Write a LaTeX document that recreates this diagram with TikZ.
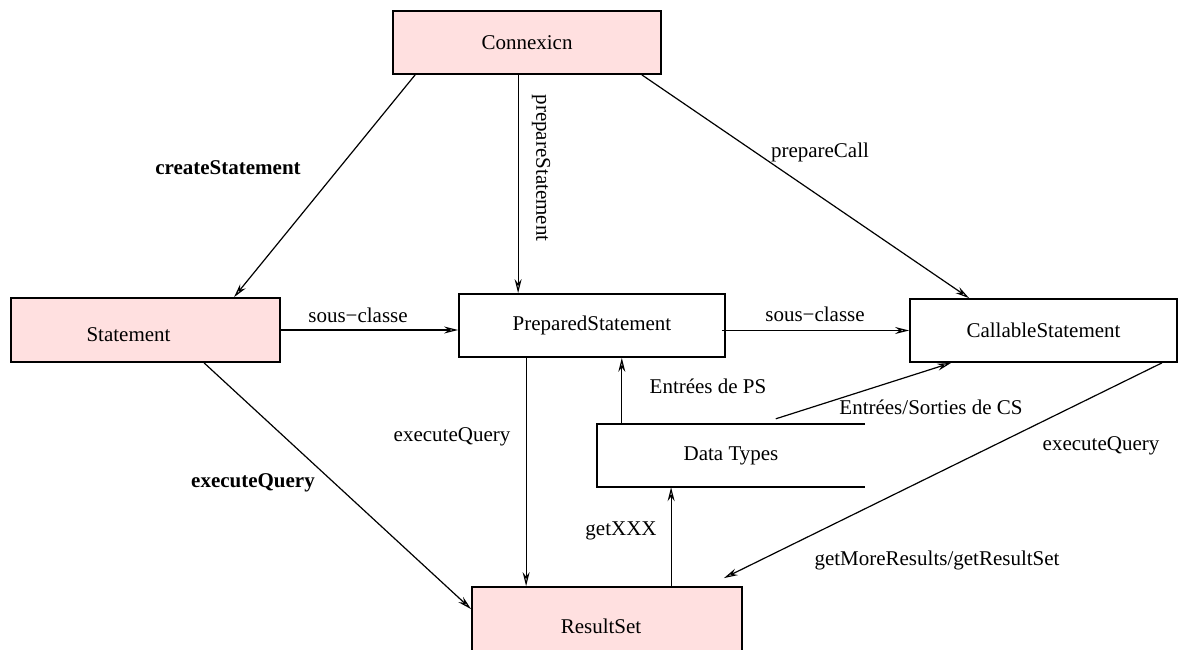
\documentclass[tikz,border=0pt]{standalone}
\usepackage{fontspec}
\setmainfont{Liberation Serif}
\usetikzlibrary{arrows.meta,calc}
\definecolor{boxpink}{RGB}{255,224,224}
\tikzset{
  classbox/.style={draw=black, line width=1.8pt, minimum width=#1, minimum height=63pt,
    inner sep=0pt, font=\fontsize{21}{25}\selectfont},
  pinkbox/.style={classbox=#1, fill=boxpink},
  link/.style={line width=1.2pt, -{Stealth[open, length=14pt, width=7pt]}},
  lbl/.style={font=\fontsize{21}{25}\selectfont, inner sep=0pt},
  blbl/.style={font=\fontsize{21}{25}\selectfont\bfseries, inner sep=0pt}
}
\begin{document}
\begin{tikzpicture}[x=1pt, y=-1pt]
\useasboundingbox (0,0) rectangle (1179,649);

% classes
\node[pinkbox=268pt] (cx) at (527,42.5) {Connexicn};
\node[pinkbox=269pt, minimum height=64pt,
      label={[lbl, xshift=-17pt, yshift=-5pt]center:Statement}] (st) at (145.5,330) {};
\node[classbox=266pt] (ps) at (592,325.5) {PreparedStatement};
\node[classbox=267pt] (cs) at (1043.5,330.5) {CallableStatement};
\node[pinkbox=270pt, minimum height=66pt,
      label={[lbl, xshift=-6pt, yshift=-6pt]center:ResultSet}] (rs) at (607,620) {};
\node[minimum width=268pt, minimum height=63pt, inner sep=0pt,
      font=\fontsize{21}{25}\selectfont] (dt) at (731,455.5) {Data Types};
\draw[line width=1.8pt] (dt.north east) -- (dt.north west) -- (dt.south west) -- (dt.south east);

% start points of the vertical connectors
\coordinate (psq) at ($(ps.south west)+(68,0)$);
\coordinate (dtin) at ($(dt.north west)+(25,0)$);
\coordinate (rsget) at ($(rs.north west)+(200,0)$);

% connectors
\draw[link] ($(cx.south west)+(23,0)$) -- ($(st.north west)+(224,0)$);
\draw[link] ($(cx.south west)+(126,0)$) -- ($(ps.north west)+(60,0)$);
\draw[link] ($(cx.south east)+(-20,0)$) -- ($(cs.north west)+(60,0)$);
\draw[link] (st.east) -- (st.east -| ps.west);
\draw[link] ($(ps.east |- cs.west)+(-4,0)$) -- (cs.west);
\draw[link] ($(st.south west)+(194,0)$) -- ($(rs.north west)+(0,23)$);
\draw[link] (psq) -- (psq |- rs.north);
\draw[link] (dtin) -- (dtin |- ps.south);
\draw[link] ($(dt.north west)+(179,-5)$) -- ($(cs.south west)+(42,0)$);
\draw[link] (rsget) -- (rsget |- dt.south);
\draw[link] ($(cs.south east)+(-16,0)$) -- ($(rs.north east)+(-19,-8)$);

% connector labels
\node[blbl] (l1) at (228,168) {createStatement};
\node[lbl, rotate=-90] (l2) at (541,168) {prepareStatement};
\node[lbl] (l3) at (820,152) {prepareCall};
\node[lbl] (l4) at (358,315) {sous−classe};
\node[lbl] (l5) at (815,314) {sous−classe};
\node[blbl] (l6) at (253,483) {executeQuery};
\node[lbl] (l7) at (452,437) {executeQuery};
\node[lbl] (l8) at (708,386) {Entrées de PS};
\node[lbl] (l9) at (931,407) {Entrées/Sorties de CS};
\node[lbl] (l10) at (1101,446) {executeQuery};
\node[lbl] (l11) at (621,531) {getXXX};
\node[lbl] (l12) at (937,560) {getMoreResults/getResultSet};
\end{tikzpicture}
\end{document}
